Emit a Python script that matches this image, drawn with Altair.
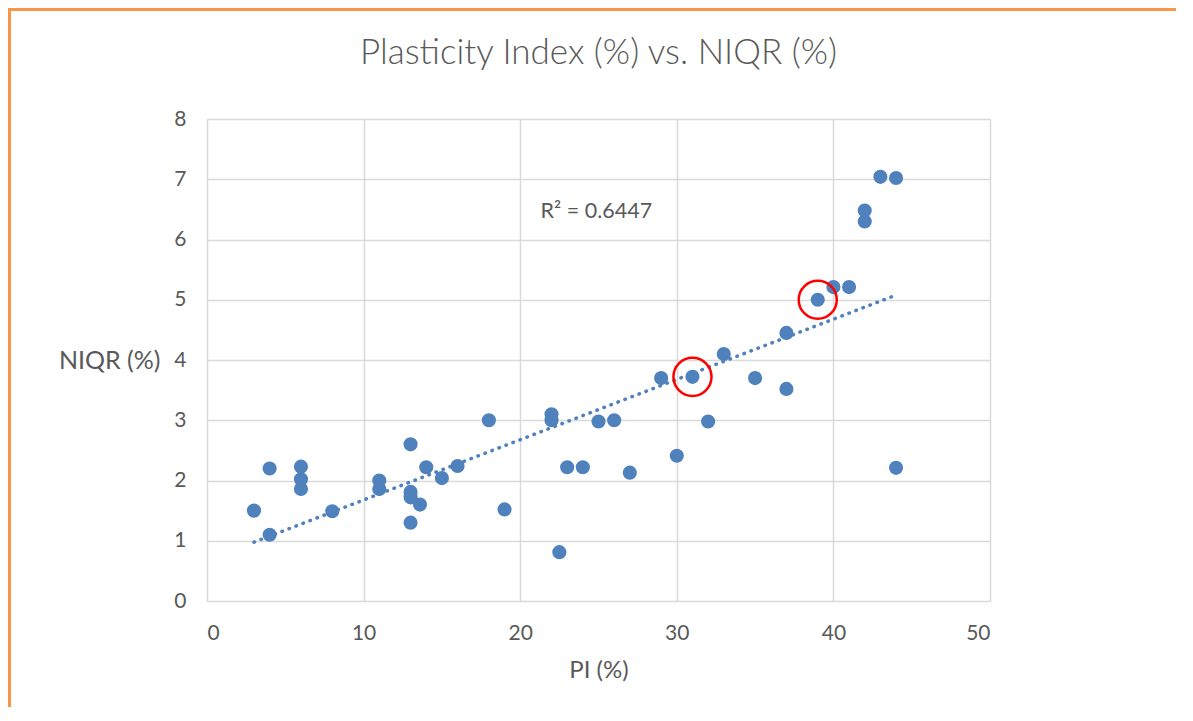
import altair as alt
import pandas as pd

pi_vals = [3, 4, 4, 6, 6, 6, 8, 11, 11, 13, 13, 13, 13.6, 13, 14, 15, 16, 18, 19,
           22, 22, 22.5, 23, 24, 25, 26, 27, 30, 32, 29, 31, 33, 35, 37, 37, 39,
           40, 41, 42, 42, 43, 44, 44]
niqr_vals = [1.5, 2.2, 1.1, 2.23, 2.02, 1.86, 1.49, 2.0, 1.86, 2.6, 1.81, 1.72, 1.6, 1.3,
             2.22, 2.04, 2.24, 3.0, 1.52, 3.1, 3.0, 0.81, 2.22, 2.22, 2.98, 3.0, 2.13,
             2.41, 2.98, 3.7, 3.72, 4.1, 3.7, 3.52, 4.45, 5.0, 5.21, 5.21, 6.3, 6.48,
             7.04, 7.02, 2.21]
highlight_pi = [31, 39]
highlight_niqr = [3.72, 5.0]
r2_label = ["R² = 0.6447"]
r2_pos_x = [21.3]
r2_pos_y = [6.46]

df = pd.DataFrame({"PI": pi_vals, "NIQR": niqr_vals})
hl = pd.DataFrame({"PI": highlight_pi, "NIQR": highlight_niqr})
txt = pd.DataFrame({"PI": r2_pos_x, "NIQR": r2_pos_y, "label": r2_label})
one = pd.DataFrame({"a": [0]})

FONT = "Lato"
GREY = "#595959"
BLUE = "#4F81BD"

xscale = alt.Scale(domain=[0, 50], nice=False)
yscale = alt.Scale(domain=[0, 8], nice=False)

xaxis = alt.Axis(values=[0, 10, 20, 30, 40, 50], format="d", grid=True, gridColor="#D9D9D9",
                 gridWidth=1.5, domain=False, ticks=False, labelFont=FONT,
                 labelFontSize=21, labelColor=GREY, labelPadding=32,
                 labelBaseline="middle", title="PI (%)", titleFont=FONT,
                 titleFontSize=24, titleFontWeight="normal", titleColor=GREY,
                 titleY=69, titleBaseline="middle")
yaxis = alt.Axis(values=list(range(0, 9)), format="d", grid=True, gridColor="#D9D9D9",
                 gridWidth=1.5, domain=False, ticks=False, labelFont=FONT,
                 labelFontSize=21, labelColor=GREY, labelPadding=21,
                 title="NIQR (%)", titleFont=FONT, titleFontSize=25,
                 titleFontWeight="normal", titleColor=GREY, titleAngle=0,
                 titleAlign="right", titleBaseline="middle", titleX=-47, titleY=241)

base = alt.Chart(df)

points = base.mark_circle(size=200, opacity=1, color=BLUE).encode(
    x=alt.X("PI:Q", scale=xscale, axis=xaxis),
    y=alt.Y("NIQR:Q", scale=yscale, axis=yaxis),
)

trend = base.transform_regression("PI", "NIQR").mark_line(
    color=BLUE, strokeWidth=3.5, strokeDash=[0.5, 7], strokeCap="round"
).encode(x=alt.X("PI:Q", scale=xscale), y=alt.Y("NIQR:Q", scale=yscale))

rings = alt.Chart(hl).mark_point(shape="circle", size=1450, filled=False,
                                 color="#FF0000", strokeWidth=2.5, opacity=1).encode(
    x=alt.X("PI:Q", scale=xscale), y=alt.Y("NIQR:Q", scale=yscale))

r2 = alt.Chart(txt).mark_text(align="left", baseline="middle", font=FONT,
                              fontSize=21.5, color=GREY).encode(
    x=alt.X("PI:Q", scale=xscale), y=alt.Y("NIQR:Q", scale=yscale), text="label:N")

border_v = alt.Chart(one).mark_rule(color="#F79646", strokeWidth=3).encode(
    x=alt.value(-197.5), y=alt.value(-109.5), y2=alt.value(610))
border_h = alt.Chart(one).mark_rule(color="#F79646", strokeWidth=3).encode(
    y=alt.value(-109.5), x=alt.value(-199), x2=alt.value(990))

chart = alt.layer(points, trend, rings, r2, border_v, border_h).properties(
    width=783, height=482,
    title=alt.TitleParams("Plasticity Index (%) vs. NIQR (%)", font=FONT,
                          fontSize=35, fontWeight=300, color=GREY, offset=-91,
                          baseline="alphabetic", frame="group", anchor="middle"),
    autosize=alt.AutoSizeParams(type="none"),
    padding={"left": 199, "top": 111, "right": 186, "bottom": 106},
).configure_view(stroke=None).configure(background="white")

chart.save("out.html", embed_options={"renderer": "svg", "actions": False})
